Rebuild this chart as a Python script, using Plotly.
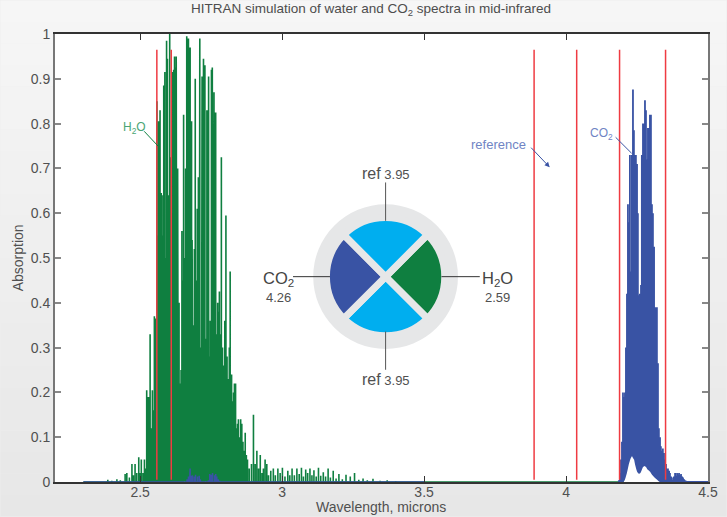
import plotly.graph_objects as go

W, H = 727, 517
L, R, T, B = 54.7, 708.5, 33.5, 482.5

water_wl = [2.30,2.386,2.400,2.418,2.430,2.447,2.453,2.462,2.471,2.476,2.482,2.488,2.495,2.499,2.504,2.510,2.515,2.520,2.523,2.527,2.531,2.535,2.539,2.543,2.547,2.550,2.554,2.559,2.562,2.565,2.568,2.570,2.574,2.577,2.580,2.583,2.587,2.590,2.593,2.596,2.599,2.601,2.604,2.607,2.609,2.612,2.615,2.618,2.621,2.624,2.627,2.629,2.632,2.634,2.637,2.641,2.644,2.647,2.650,2.653,2.656,2.660,2.662,2.664,2.667,2.670,2.673,2.676,2.679,2.681,2.683,2.685,2.688,2.691,2.694,2.697,2.701,2.703,2.705,2.708,2.710,2.713,2.716,2.718,2.721,2.723,2.725,2.728,2.731,2.735,2.738,2.741,2.744,2.747,2.751,2.754,2.756,2.760,2.763,2.766,2.770,2.773,2.776,2.779,2.782,2.786,2.790,2.794,2.798,2.802,2.806,2.811,2.814,2.817,2.820,2.822,2.825,2.829,2.832,2.836,2.840,2.843,2.846,2.850,2.854,2.858,2.862,2.866,2.870,2.874,2.878,2.884,2.892,2.899,2.905,2.911,2.917,2.923,2.929,2.934,2.940,2.946,2.952,2.960,2.969,2.976,2.985,2.993,3.001,3.010,3.020,3.027,3.035,3.043,3.052,3.060,3.068,3.075,3.083,3.090,3.098,3.105,3.112,3.120,3.128,3.136,3.145,3.153,3.162,3.170,3.180,3.190,3.200,3.212,3.225,3.240,3.255,3.270,3.285,3.300,3.320,3.345,3.370,3.400,4.20]
water_peak = [0,0.005,0.003,0.006,0.004,0.018,0.02,0.01,0.04,0.015,0.04,0.02,0.055,0.02,0.05,0.02,0.05,0.03,0.205,0.19,0.19,0.33,0.12,0.205,0.16,0.37,0.365,0.85,0.55,0.805,0.825,0.83,0.645,0.64,0.55,0.885,0.915,0.50,0.985,0.945,0.64,0.64,1.0,0.72,0.725,0.6,0.915,0.92,0.95,0.925,0.95,0.95,0.70,0.70,0.40,0.22,0.25,0.56,0.45,0.82,0.50,0.70,0.60,0.995,0.99,0.99,0.97,0.97,0.78,0.805,0.54,0.54,0.35,0.52,0.90,0.45,0.61,0.60,0.68,0.55,0.99,0.30,0.60,0.905,0.40,0.945,0.66,0.93,0.32,0.83,0.83,0.905,0.28,0.36,0.92,0.925,0.87,0.87,0.825,0.825,0.33,0.40,0.38,0.425,0.33,0.725,0.30,0.26,0.36,0.595,0.28,0.23,0.30,0.47,0.20,0.24,0.18,0.20,0.22,0.22,0.12,0.13,0.14,0.10,0.14,0.13,0.09,0.07,0.11,0.06,0.05,0.03,0.04,0.15,0.04,0.07,0.03,0.06,0.02,0.03,0.05,0.04,0.015,0.025,0.03,0.015,0.03,0.02,0.032,0.012,0.025,0.015,0.03,0.015,0.03,0.018,0.032,0.012,0.028,0.02,0.03,0.015,0.026,0.012,0.032,0.014,0.022,0.012,0.03,0.01,0.025,0.008,0.018,0.006,0.016,0.012,0.02,0.005,0.008,0.004,0.007,0.003,0.004,0.002,0.002,0]
water_valley = [0]*len(water_wl)
water_floor_wl = [2.572,2.580,2.590,2.600,2.610,2.620,2.630,2.646,2.655,2.722,2.730,2.738]
water_floor_val = [0.006,0.008,0.012,0.010,0.012,0.010,0.006,0.006,0.010,0.006,0.010,0.006]

co2_low_wl = [2.30,2.60,2.665,2.670,2.674,2.676,2.679,2.684,2.690,2.695,2.702,2.708,2.712,2.740,2.745,2.750,2.755,2.762,2.766,2.770,2.775,2.780,3.50]
co2_low_peak = [0,0.001,0.006,0.012,0.016,0.03,0.014,0.015,0.012,0.016,0.012,0.014,0.006,0.004,0.018,0.016,0.02,0.015,0.018,0.012,0.006,0.003,0.0]

co2_wl = [4.186,4.19,4.1935,4.197,4.2005,4.204,4.2075,4.211,4.2146,4.218,4.2216,4.225,4.2287,4.232,4.2357,4.239,4.243,4.246,4.25,4.253,4.257,4.26,4.264,4.267,4.271,4.2744,4.278,4.2815,4.285,4.2885,4.292,4.2955,4.299,4.3025,4.306,4.31,4.313,4.3166,4.32,4.3237,4.327,4.331,4.334,4.338,4.341,4.345,4.348,4.352,4.356,4.359,4.363,4.366,4.37,4.373,4.377,4.38,4.384,4.387,4.391,4.395,4.398,4.402,4.405,4.409,4.412,4.416,4.419,4.423,4.426,4.43,4.437,4.447,4.50]
co2_peak = [0.004,0.02,0.05,0.09,0.20,0.19,0.20,0.30,0.42,0.62,0.58,0.73,0.47,0.73,0.876,0.785,0.73,0.73,0.71,0.60,0.417,0.42,0.44,0.73,0.80,0.80,0.852,0.83,0.72,0.79,0.79,0.82,0.82,0.62,0.60,0.525,0.39,0.39,0.39,0.265,0.12,0.10,0.08,0.07,0.075,0.065,0.05,0.04,0.03,0.03,0.025,0.02,0.012,0.005,0.01,0.012,0.02,0.014,0.02,0.017,0.02,0.015,0.018,0.012,0.01,0.006,0.004,0.003,0.002,0.001,0.001,0.0,0]
co2_valley = [0,0,0,0,0.002,0.005,0.012,0.02,0.03,0.04,0.048,0.054,0.058,0.061,0.058,0.054,0.05,0.04,0.03,0.024,0.02,0.022,0.028,0.033,0.036,0.037,0.039,0.036,0.034,0.03,0.028,0.026,0.024,0.02,0.017,0.014,0.012,0.01,0.008,0.006,0.004,0.002,0,0,0,0,0,0,0,0,0,0,0,0,0,0,0,0,0,0,0,0,0,0,0,0,0,0,0,0,0,0,0]

ref_wl = [2.5587, 2.6095, 3.8875, 4.0375, 4.1885, 4.3505]
ref_top = 0.965

tick_x = [2.5, 3, 3.5, 4, 4.5]
tick_x_text = ["2.5", "3", "3.5", "4", "4.5"]
tick_y = [0, .1, .2, .3, .4, .5, .6, .7, .8, .9, 1]
tick_y_text = ["0", "0.1", "0.2", "0.3", "0.4", "0.5", "0.6", "0.7", "0.8", "0.9", "1"]
filter_shares = [1, 1, 1, 1]
filter_names = ["H2O", "ref top", "CO2", "ref bottom"]

GREEN = "#0f7f40"; BLUE = "#3953a4"; CYAN = "#00aeef"; RING = "#e6e7e8"; RED = "#ef3b42"
FONT = "Liberation Sans"; TXT = "#505050"

def stems(wl, peak, valley):
    xs, ys = [], []
    for w, p, v in zip(wl, peak, valley):
        xs += [w, w, w]
        ys += [v, p, v]
    return xs, ys

for w, v in zip(water_floor_wl, water_floor_val):
    k = min(range(len(water_wl)), key=lambda i: abs(water_wl[i] - w))
    water_valley[k] = v

def px(x): return (x - L) / (R - L)
def py(y): return (B - y) / (B - T)

fig = go.Figure()
wx, wy = stems(water_wl, water_peak, water_valley)
fig.add_trace(go.Scatter(x=wx, y=wy, mode="lines", line=dict(color=GREEN, width=1.6), cliponaxis=False, showlegend=False))
lx, ly = stems(co2_low_wl, co2_low_peak, [0] * len(co2_low_wl))
fig.add_trace(go.Scatter(x=lx, y=ly, mode="lines", line=dict(color=BLUE, width=1.5), cliponaxis=False, showlegend=False))
cx, cy = stems(co2_wl, co2_peak, co2_valley)
fig.add_trace(go.Scatter(x=cx, y=cy, mode="lines", line=dict(color=BLUE, width=1.8), cliponaxis=False, showlegend=False))
for r in ref_wl:
    fig.add_trace(go.Scatter(x=[r, r], y=[0.005, ref_top], mode="lines", line=dict(color=RED, width=1.5), showlegend=False))

CX, CY = 385.7, 276.7
def dom(r):
    return dict(x=[px(CX - r), px(CX + r)], y=[py(CY + r), py(CY - r)])
fig.add_trace(go.Pie(values=[1], labels=["ring"], domain=dom(72.5), marker=dict(colors=[RING], line=dict(width=0)), textinfo="none", sort=False, showlegend=False, hoverinfo="skip"))
fig.add_trace(go.Pie(values=filter_shares, labels=filter_names, domain=dom(59.3), rotation=45, direction="clockwise", sort=False,
                     marker=dict(colors=[GREEN, CYAN, BLUE, CYAN], line=dict(color=RING, width=7)), textinfo="none", showlegend=False, hoverinfo="skip"))

shapes = []
N = 24
for i in range(N):
    g0 = 246 - round(15 * i / (N - 1))
    c = f"rgb({g0},{g0},{g0})"
    shapes.append(dict(type="rect", xref="paper", yref="paper", layer="below", line=dict(width=0), fillcolor=c,
                       x0=px(0), x1=px(W), y0=py(H * (i + 1) / N), y1=py(H * i / N)))
shapes.append(dict(type="rect", xref="paper", yref="paper", layer="below", line=dict(width=0), fillcolor="white", x0=0, x1=1, y0=0, y1=1))

def seg(x0, y0, x1, y1, color, width=1):
    shapes.append(dict(type="line", xref="paper", yref="paper", x0=px(x0), y0=py(y0), x1=px(x1), y1=py(y1), line=dict(color=color, width=width)))
seg(293, CY, 330, CY, "#333333")
seg(441.7, CY, 480, CY, "#333333")
seg(CX, 182.3, CX, 220.7, "#555555")
seg(CX, 331.7, CX, 370, "#555555")
seg(144, 131, 159, 147, GREEN)
seg(616, 137, 632, 153, BLUE)

def text(x, y, s, size, color=TXT, anchor="center"):
    return dict(xref="paper", yref="paper", x=px(x), y=py(y), text=s, showarrow=False, xanchor=anchor, yanchor="middle",
                font=dict(family=FONT, size=size, color=color))

ann = [
    text(371.5, 8.5, "HITRAN simulation of water and CO<sub>2</sub> spectra in mid-infrared", 13.5, "#4d4d4d"),
    text(134, 127.5, "H<sub>2</sub>O", 12, "#4aa574"),
    text(602, 134, "CO<sub>2</sub>", 12, "#6f84c4"),
    text(498.5, 144, "reference", 13, "#6f84c4"),
    text(386, 173, '<span style="font-size:16px">ref</span> 3.95', 13),
    text(386, 380, '<span style="font-size:16px">ref</span> 3.95', 13),
    text(278, 279, "CO<sub>2</sub>", 16.5, "#444444"),
    text(278, 298, "4.26", 13),
    text(497.5, 279, "H<sub>2</sub>O", 16.5, "#444444"),
    text(498, 298, "2.59", 13),
    text(381.5, 507.5, "Wavelength, microns", 14),
    dict(xref="paper", yref="paper", x=px(550), y=py(167), ax=-20, ay=-21, text="", showarrow=True,
         arrowhead=2, arrowsize=1, arrowwidth=1, arrowcolor=BLUE),
    dict(xref="paper", yref="paper", x=px(18), y=py(258), text="Absorption", textangle=-90, showarrow=False,
         xanchor="center", yanchor="middle", font=dict(family=FONT, size=14, color=TXT)),
]

fig.update_layout(
    width=W, height=H, margin=dict(l=L, r=W - R, t=T, b=H - B, pad=0),
    paper_bgcolor="#eeeeee", plot_bgcolor="white", shapes=shapes, annotations=ann,
    font=dict(family=FONT, color=TXT, size=14),
    xaxis=dict(range=[2.2, 4.5], tickvals=tick_x, ticktext=tick_x_text, ticks="inside", ticklen=6, tickwidth=1, tickcolor="#333333",
               showgrid=False, zeroline=False, showline=True, linecolor="#333333", linewidth=1.5, mirror="allticks", automargin=False,
               ticklabelstandoff=-4),
    yaxis=dict(range=[0, 1], tickvals=tick_y, ticktext=tick_y_text, ticks="inside", ticklen=6, tickwidth=1.5, tickcolor="#888888",
               showgrid=False, zeroline=False, showline=True, linecolor="#777777", linewidth=2, mirror="allticks", automargin=False),
)
fig.write_html("out.html", config={"displayModeBar": False}, post_script="document.body.style.margin='0';document.body.style.background='#eeeeee';")
